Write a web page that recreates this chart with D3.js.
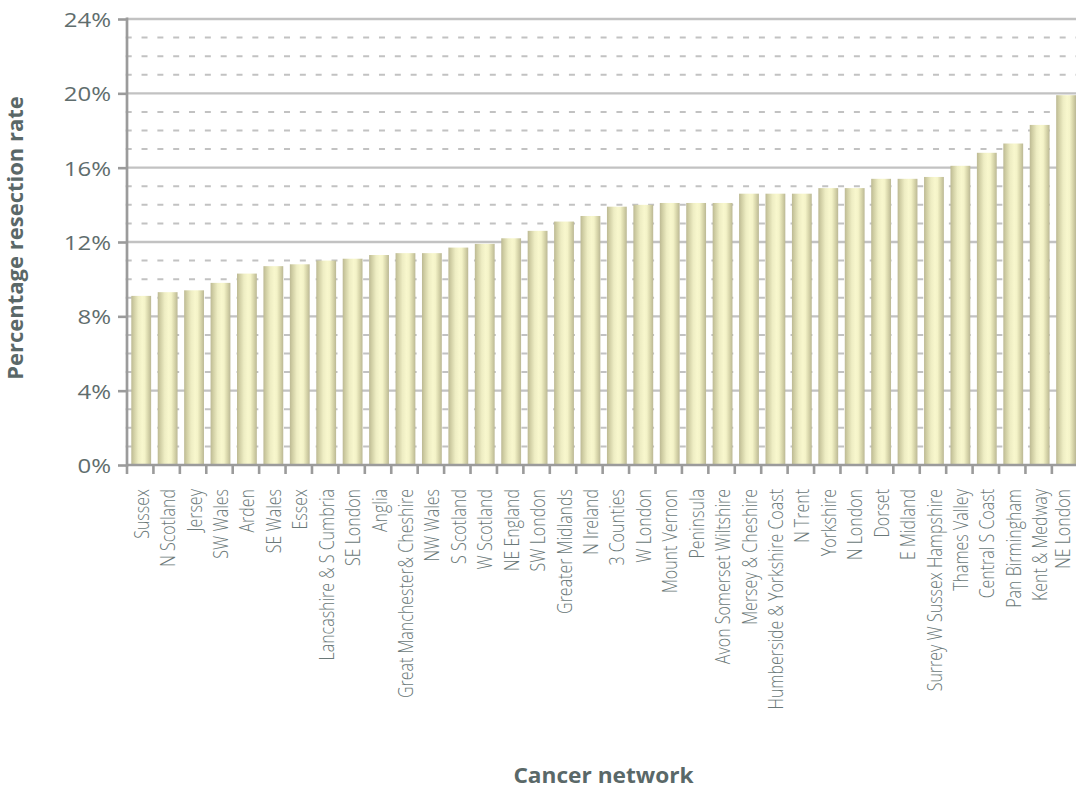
<!DOCTYPE html>
<html>
<head>
<meta charset="utf-8">
<script src="https://cdn.jsdelivr.net/npm/d3@7"></script>
<style>
  html, body { margin: 0; padding: 0; background: #ffffff; }
  svg { display: block; }
  text { font-family: "Open Sans", "Noto Sans", sans-serif; }
</style>
</head>
<body>
<svg id="chart" width="1076" height="793"></svg>
<script>
// Resection rate (%) by cancer network, sorted ascending
const networks = [
  "Sussex", "N Scotland", "Jersey", "SW Wales", "Arden", "SE Wales", "Essex",
  "Lancashire & S Cumbria", "SE London", "Anglia", "Great Manchester& Cheshire",
  "NW Wales", "S Scotland", "W Scotland", "NE England", "SW London",
  "Greater Midlands", "N Ireland", "3 Counties", "W London", "Mount Vernon",
  "Peninsula", "Avon Somerset Wiltshire", "Mersey & Cheshire",
  "Humberside & Yorkshire Coast", "N Trent", "Yorkshire", "N London", "Dorset",
  "E Midland", "Surrey W Sussex Hampshire", "Thames Valley", "Central S Coast",
  "Pan Birmingham", "Kent & Medway", "NE London"
];
const resectionRate = [
  9.1, 9.3, 9.4, 9.8, 10.3, 10.7, 10.8,
  11.0, 11.1, 11.3, 11.4,
  11.4, 11.7, 11.9, 12.2, 12.6,
  13.1, 13.4, 13.9, 14.0, 14.1,
  14.1, 14.1, 14.6,
  14.6, 14.6, 14.9, 14.9, 15.4,
  15.4, 15.5, 16.1, 16.8,
  17.3, 18.3, 19.9
];
const majorTicks = [0, 4, 8, 12, 16, 20, 24];
const minorTicks = [1, 2, 3, 5, 6, 7, 9, 10, 11, 13, 14, 15, 17, 18, 19, 21, 22, 23];
const yTitle = "Percentage resection rate";
const xTitle = "Cancer network";

const data = networks.map((name, i) => ({ name, value: resectionRate[i] }));

const svg = d3.select("#chart");
const W = 1076;
const plot = { left: 127, right: 1078.3, top: 19, bottom: 465 };

const x = d3.scaleBand()
  .domain(networks)
  .range([plot.left, plot.right])
  .paddingInner(0.25)
  .paddingOuter(0.125);

const y = d3.scaleLinear()
  .domain([0, 24])
  .range([plot.bottom, plot.top]);

const step = x.step();
const bandStart = d => x(d) - step * x.paddingOuter();

// Cylinder-like shading for bars
const defs = svg.append("defs");
const grad = defs.append("linearGradient")
  .attr("id", "barShade")
  .attr("x1", "0%").attr("x2", "100%").attr("y1", "0%").attr("y2", "0%");
[
  [0, "#bcb993"], [0.12, "#cfcda3"], [0.35, "#eeedc3"], [0.55, "#f8f7cd"],
  [0.68, "#f4f3c8"], [0.85, "#d7d5aa"], [1, "#bbb894"]
].forEach(([o, c]) => grad.append("stop").attr("offset", o).attr("stop-color", c));

const gridColor = "#c2c2c2";
const axisColor = "#9b9b9b";
const textColor = "#5f6d6d";

// Minor dashed gridlines
svg.append("g").selectAll("line")
  .data(minorTicks)
  .join("line")
  .attr("x1", plot.left - 1.3).attr("x2", W)
  .attr("y1", d => y(d)).attr("y2", d => y(d))
  .attr("stroke", gridColor)
  .attr("stroke-width", 2)
  .attr("stroke-dasharray", "6,9.83");

// Major solid gridlines
svg.append("g").selectAll("line")
  .data(majorTicks.filter(d => d > 0))
  .join("line")
  .attr("x1", plot.left).attr("x2", W)
  .attr("y1", d => y(d)).attr("y2", d => y(d))
  .attr("stroke", gridColor)
  .attr("stroke-width", 2.3);

// Bars
svg.append("g").selectAll("rect")
  .data(data)
  .join("rect")
  .attr("x", d => x(d.name) + 1)
  .attr("width", x.bandwidth())
  .attr("y", d => y(d.value))
  .attr("height", d => y(0) - y(d.value))
  .attr("fill", "url(#barShade)");

// Y axis: tick marks from the axis generator, labels set separately (slightly widened type)
const yAxis = d3.axisLeft(y)
  .tickValues(majorTicks)
  .tickSize(9)
  .tickFormat("");
const gy = svg.append("g")
  .attr("transform", `translate(${plot.left},0)`)
  .call(yAxis);
gy.select(".domain").remove();
gy.selectAll(".tick line").attr("stroke", axisColor).attr("stroke-width", 2.6);

svg.append("g").selectAll("text")
  .data(majorTicks)
  .join("text")
  .attr("transform", d => `translate(${plot.left - 16},${y(d)}) scale(1.2,1)`)
  .attr("text-anchor", "end")
  .attr("dy", "0.4em")
  .attr("fill", textColor)
  .style("font-size", "20px")
  .text(d => d + "%");

svg.append("line")
  .attr("x1", plot.left).attr("x2", plot.left)
  .attr("y1", y(24) - 1.5).attr("y2", y(0) + 1.5)
  .attr("stroke", axisColor).attr("stroke-width", 2.7);

// X axis baseline and band-boundary ticks
svg.append("line")
  .attr("x1", plot.left).attr("x2", W)
  .attr("y1", y(0)).attr("y2", y(0))
  .attr("stroke", axisColor).attr("stroke-width", 2.7);
const boundaries = networks.map(bandStart).concat([bandStart(networks[networks.length - 1]) + step]);
svg.append("g").selectAll("line")
  .data(boundaries)
  .join("line")
  .attr("x1", d => d).attr("x2", d => d)
  .attr("y1", y(0)).attr("y2", y(0) + 9)
  .attr("stroke", axisColor).attr("stroke-width", 2.6);

// Category labels, rotated; the last one is kept inside the canvas edge
const labelX = d => Math.min(x(d) + x.bandwidth() / 2 + 1.5, W - 13);
svg.append("g").selectAll("text")
  .data(networks)
  .join("text")
  .attr("transform", d => `translate(${labelX(d)},${y(0) + 24}) scale(1.22,1) rotate(-90)`)
  .attr("text-anchor", "end")
  .attr("dy", "0.36em")
  .attr("fill", "#6a7878")
  .style("font-size", "16px")
  .style("font-weight", 300)
  .text(d => d);

// Axis titles
svg.append("text")
  .attr("transform", `translate(23,238) rotate(-90)`)
  .attr("text-anchor", "middle")
  .attr("fill", "#5a6868")
  .style("font-size", "22px")
  .style("font-weight", 700)
  .text(yTitle);

svg.append("text")
  .attr("transform", `translate(603.5,783) scale(1.08,1)`)
  .attr("text-anchor", "middle")
  .attr("fill", "#5a6868")
  .style("font-size", "21px")
  .style("font-weight", 700)
  .text(xTitle);
</script>
</body>
</html>
